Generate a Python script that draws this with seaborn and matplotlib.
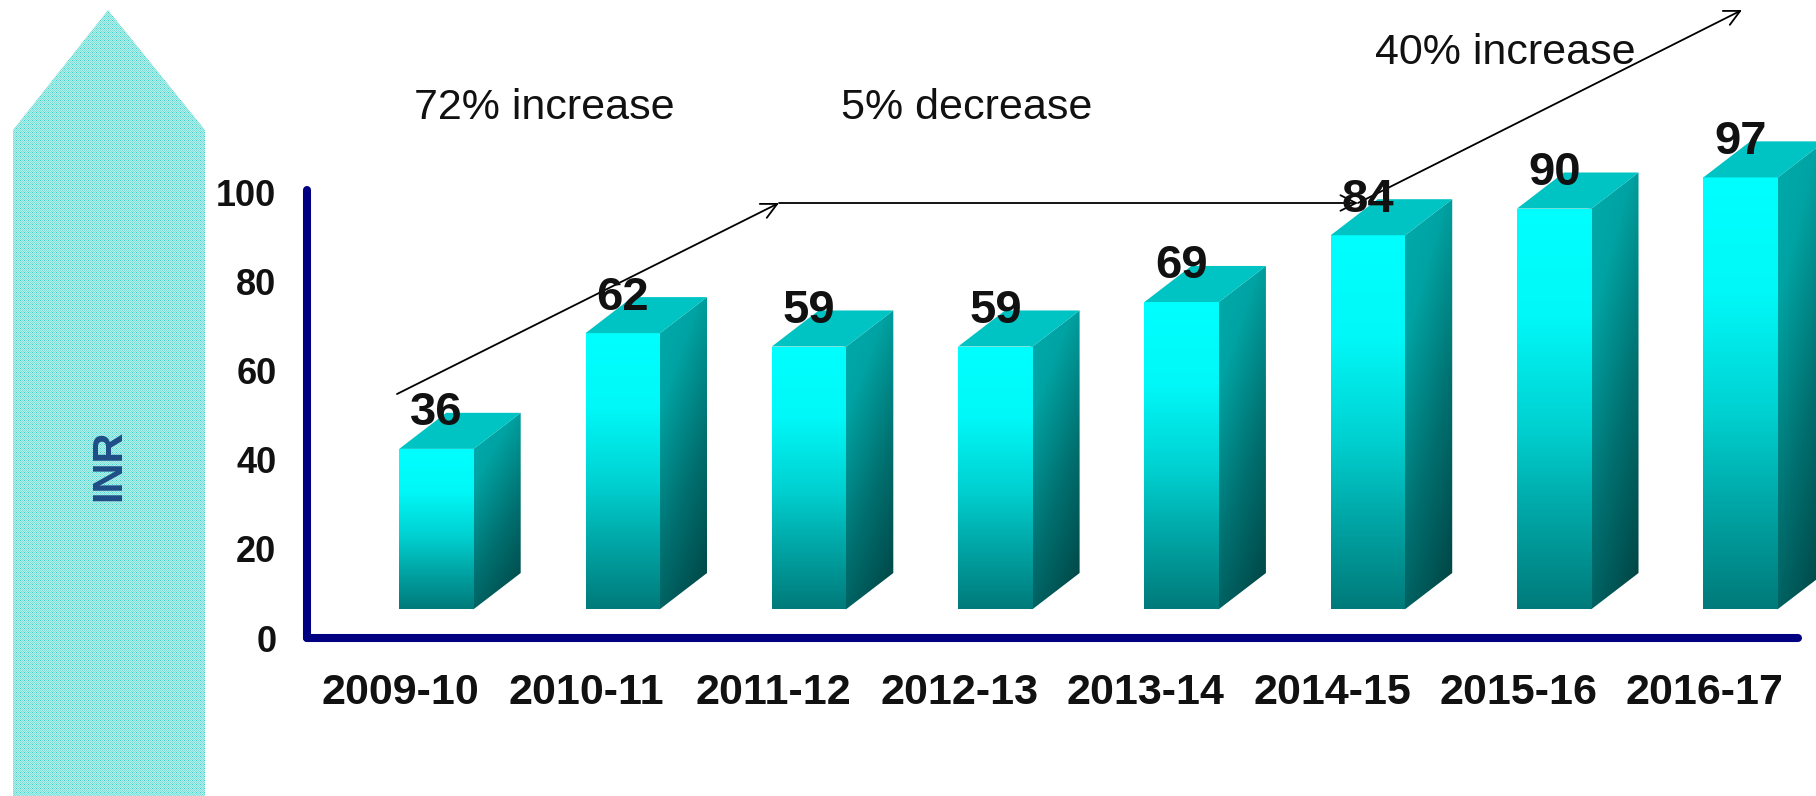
import numpy as np
import matplotlib
matplotlib.use("Agg")
import matplotlib.pyplot as plt
from matplotlib.colors import LinearSegmentedColormap
from matplotlib.patches import Polygon
from matplotlib.transforms import ScaledTranslation
import pandas as pd
import seaborn as sns

years = ["2009-10", "2010-11", "2011-12", "2012-13", "2013-14", "2014-15", "2015-16", "2016-17"]
inr = [36, 62, 59, 59, 69, 84, 90, 97]
y_ticks = [0, 20, 40, 60, 80, 100]
notes = ["72% increase", "5% decrease", "40% increase"]

W, H = 1816, 796
sns.set_theme(style="white")
plt.rcParams["font.family"] = ["Liberation Sans", "DejaVu Sans"]

fig = plt.figure(figsize=(W / 100, H / 100), dpi=100)
ax = fig.add_axes([307 / W, (H - 638) / H, (1798 - 307) / W, (638 - 190) / H])

df = pd.DataFrame({"year": years, "inr": inr})
sns.barplot(data=df, x="year", y="inr", width=0.4, color="#00a0a0", ax=ax)

# the 3d look: front base sits above the floor, side and top faces behind it
base = 6.5
dx, dy = 0.252, 8.1
lap = 0.012
front_cm = LinearSegmentedColormap.from_list("front", [(0, "#00ffff"), (0.27, "#00f8f8"), (0.55, "#00d0d0"), (0.75, "#00a8a8"), (1, "#007a7a")])
side_cm = LinearSegmentedColormap.from_list("side", [(0, "#00abab"), (0.25, "#00a3a3"), (0.6, "#006f6f"), (0.92, "#004848"), (1, "#004444")])
grad_v = np.linspace(0, 1, 256).reshape(-1, 1)
gx, gy = np.meshgrid(np.linspace(0, 1, 64), np.linspace(0, 1, 256))
grad_d = 0.3 * gx + 0.7 * gy

xlim, ylim = (-0.695, 7.308), (0, 100.67)
for bar, v in zip(ax.patches, inr):
    x0, w = bar.get_x(), bar.get_width()
    bar.set_y(base)
    bar.set_clip_on(False)
    bar.set_linewidth(0)
    x1 = x0 + w
    top = base + v
    im = ax.imshow(grad_d, cmap=side_cm, aspect="auto", extent=(x1 - lap, x1 + dx, base - 1, top + dy), zorder=2.9)
    im.set_clip_path(Polygon([(x1 - lap, base), (x1, base), (x1 + dx, base + dy), (x1 + dx, top + dy), (x1, top), (x1 - lap, top)], transform=ax.transData))
    im.set_clip_box(fig.bbox)
    im = ax.imshow(grad_v, cmap=front_cm, aspect="auto", extent=(x0, x1, base, top), zorder=3)
    im.set_clip_path(Polygon([(x0, base), (x1, base), (x1, top), (x0, top)], transform=ax.transData))
    im.set_clip_box(fig.bbox)
    ax.add_patch(Polygon([(x0, top), (x1, top), (x1 + dx, top + dy), (x0 + dx, top + dy)],
                         facecolor="#00c3c3", edgecolor="none", zorder=3, clip_on=False))
    ax.text(x0 + w / 2, top + 8.0, str(v), ha="center", va="center", fontsize=34,
            fontweight="bold", color="#111111", zorder=6, clip_on=False)

ax.set_xlim(*xlim)
ax.set_ylim(*ylim)
ax.set_yticks(y_ticks)
ax.set_xlabel("")
ax.set_ylabel("")
ax.tick_params(axis="x", length=0, pad=25.5, labelsize=31, labelcolor="#111111")
ax.tick_params(axis="y", length=0, pad=22, labelsize=26, labelcolor="#111111")
shift = ScaledTranslation(-36 / 100, 0, fig.dpi_scale_trans)
for lab in ax.get_xticklabels():
    lab.set_fontweight("bold")
    lab.set_transform(lab.get_transform() + shift)
for lab in ax.get_yticklabels():
    lab.set_fontweight("bold")
sns.despine(ax=ax)
for s in ["left", "bottom"]:
    ax.spines[s].set_color("#000080")
    ax.spines[s].set_linewidth(5.8)
    ax.spines[s].set_capstyle("round")

# big upward arrow on the left, dithered like the original
pts = [(13, 796), (13, 130), (108, 10), (205, 130), (205, 796)]
shape = Polygon([(x, H - y) for x, y in pts], transform=None, facecolor="none", edgecolor="none")
yy, xx = np.mgrid[0:H, 0:W]
checker = ((xx + yy) % 2).astype(float)
dots = ((xx % 4 == 0) & (yy % 4 == 0))
rgb = np.zeros((H, W, 3))
rgb[checker == 0] = np.array([0x7d, 0xdf, 0xd8]) / 255
rgb[checker == 1] = np.array([0xb3, 0xf0, 0xeb]) / 255
rgb[dots] = np.array([0x3f, 0xcf, 0xc8]) / 255
bg = fig.figimage(rgb, 0, 0, origin="upper", zorder=1)
bg.set_clip_path(shape)

fig.text(109 / W, 1 - 465 / H, "INR", rotation=90, ha="center", va="center", fontsize=30,
         fontweight="bold", color="#1f4e87", zorder=5)

fig.text(544 / W, 1 - 108 / H, notes[0], ha="center", va="center", fontsize=31, color="#111111")
fig.text(967 / W, 1 - 108 / H, notes[1], ha="center", va="center", fontsize=31, color="#111111")
fig.text(1505 / W, 1 - 53 / H, notes[2], ha="center", va="center", fontsize=31, color="#111111")

for start, end in [((397, 394), (779, 203)), ((779, 203), (1358, 203)), ((1358, 203), (1742, 10))]:
    ax.annotate("", xy=(end[0], H - end[1]), xytext=(start[0], H - start[1]),
                xycoords="figure pixels", textcoords="figure pixels", zorder=5,
                arrowprops=dict(arrowstyle="->", color="black", lw=1.3, mutation_scale=28, shrinkA=0, shrinkB=0))

fig.savefig("out.png", dpi=100)
